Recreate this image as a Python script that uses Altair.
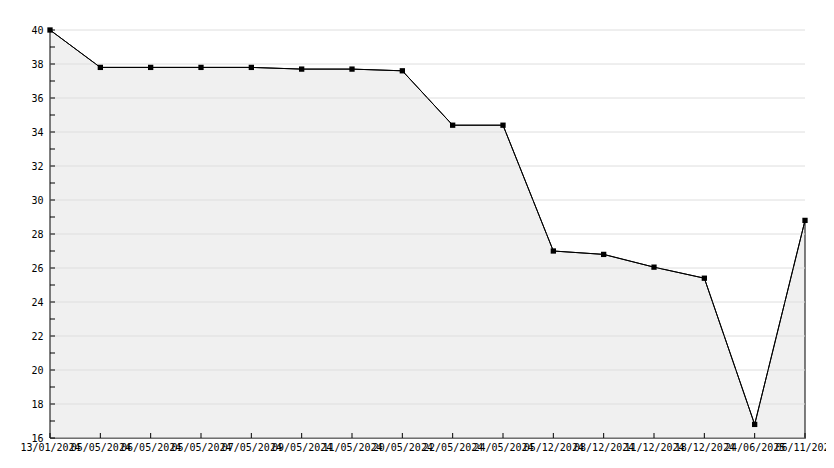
import altair as alt
import pandas as pd

labels = ["13/01/2024", "05/05/2024", "06/05/2024", "05/05/2024", "07/05/2024",
          "09/05/2024", "11/05/2024", "20/05/2024", "22/05/2024", "24/05/2024",
          "05/12/2024", "08/12/2024", "11/12/2024", "18/12/2024", "24/06/2025",
          "06/11/2025"]
values = [40.0, 37.8, 37.8, 37.8, 37.8, 37.7, 37.7, 37.6, 34.4, 34.4,
          27.0, 26.8, 26.05, 25.4, 16.8, 28.8]
y_min, y_max = 16, 40
grid_values = list(range(16, 41, 2))
tick_values = list(range(16, 41))

W, H = 755, 408
FONT = "DejaVu Sans Mono"

n = len(values)
df = pd.DataFrame({"idx": list(range(n)), "value": values, "base": [y_min] * n})
grid_df = pd.DataFrame({"value": grid_values})
ytick_df = pd.DataFrame({"value": tick_values})

label_expr = "[" + ",".join(f"'{l}'" for l in labels) + "][datum.value]"

xscale = alt.Scale(domain=[0, n - 1], nice=False, zero=False)
yscale = alt.Scale(domain=[y_min, y_max], nice=False, zero=False)

x_axis = alt.Axis(values=list(range(n)), labelExpr=label_expr, labelOverlap=False,
                  labelFlush=False, tickSize=0, grid=False, domainColor="black",
                  domainWidth=1, labelFont=FONT, labelFontSize=10, labelColor="black",
                  labelPadding=4, title=None)
y_axis = alt.Axis(values=grid_values, grid=False, tickSize=0, domainColor="black",
                  domainWidth=1, labelFont=FONT, labelFontSize=10, labelColor="black",
                  labelPadding=7, title=None)

X = alt.X("idx:Q", scale=xscale, axis=x_axis)
Y = alt.Y("value:Q", scale=yscale, axis=y_axis)

base = alt.Chart(df)

area = base.mark_area(color="#f0f0f0", stroke="black", strokeWidth=1).encode(
    x=X, y=Y, y2="base:Q",
)

grid = alt.Chart(grid_df).mark_rule(color="#dedede", strokeWidth=1).encode(
    y=Y, x=alt.value(0), x2=alt.value(W),
)

line = base.mark_line(color="black", strokeWidth=1).encode(x=X, y=Y)

pts = base.mark_point(shape="square", filled=True, color="black", size=28, opacity=1).encode(
    x=X, y=Y,
)

yticks = alt.Chart(ytick_df).mark_rule(color="black", strokeWidth=1).encode(
    y=Y, x=alt.value(0), x2=alt.value(5),
)

xticks = base.mark_rule(color="black", strokeWidth=1).encode(
    x=X, y=alt.value(H - 5), y2=alt.value(H),
)

chart = alt.layer(area, grid, line, pts, yticks, xticks).properties(
    width=W, height=H,
    background="white",
    autosize=alt.AutoSizeParams(type="none"),
    padding={"left": 42, "top": 22, "right": 21, "bottom": 20},
).configure_view(strokeWidth=0, strokeOpacity=0)

chart.save("out.html", embed_options={"renderer": "svg", "actions": False})
